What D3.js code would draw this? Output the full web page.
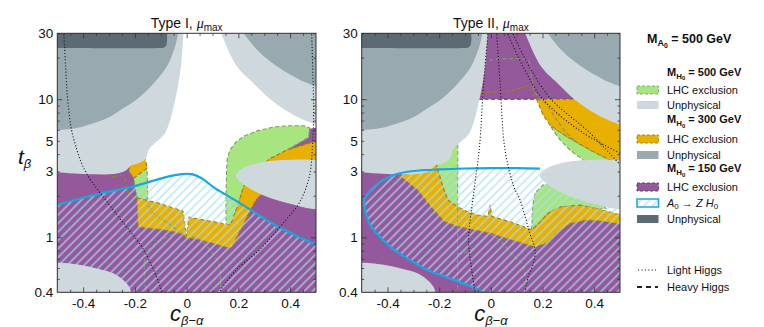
<!DOCTYPE html>
<html><head><meta charset="utf-8">
<script src="https://cdn.jsdelivr.net/npm/d3@7/dist/d3.min.js"></script>
<style>
body{margin:0;background:#fff;}
text{font-family:"Liberation Sans",Arial,sans-serif;fill:#111;}
</style></head>
<body><svg id="chart" width="764" height="327"></svg>
<script>
// ================= DATA (c_{beta-alpha}, t_beta) =================
const xTickValues=[-0.4,-0.2,0,0.2,0.4];
const xTickLabels=["-0.4","-0.2","0","0.2","0.4"];
const xMinorTicks=[-0.45,-0.35,-0.3,-0.25,-0.15,-0.1,-0.05,0.05,0.1,0.15,0.25,0.3,0.35,0.45];
const yTickValues=[0.4,1,3,5,10,30];
const yTickLabels=["0.4","1","3","5","10","30"];
const yMajorTicks=[1,10];
const yMinorTicks=[0.5,0.6,0.7,0.8,0.9,2,3,4,5,6,7,8,9,20,30];
const panelTitles=["Type I, ","Type II, "];

// Unphysical regions (shared by both panels)
const unphys150Edge=[[-0.076,31],[-0.076,26.2],[-0.08,24.4],[-0.09,23.6],[-0.1,23.5],[-0.52,23.5]];
const unphys150Corners=[[-0.52,31]];
const unphys300LeftEdge=[[-0.031,31],[-0.045,24],[-0.076,17.3],[-0.128,13.0],[-0.192,10],[-0.25,8.5],[-0.295,7.5],[-0.36,6.7],[-0.424,6.2],[-0.52,5.95]];
const unphys300LeftCorners=[[-0.52,31]];
const unphys300RightEdge=[[0.214,31],[0.272,22.8],[0.349,17.3],[0.439,13.8],[0.52,12.0]];
const unphys300RightCorners=[[0.52,31]];
const unphys500LeftEdge=[[-0.012,31],[-0.022,17.3],[-0.044,10],[-0.083,5.7],[-0.12,4.85],[-0.147,4.3],[-0.158,3.7],[-0.185,3.44],[-0.213,3.32],[-0.235,3.05],[-0.27,2.9],[-0.37,2.86],[-0.52,2.98]];
const unphys500LeftCorners=[[-0.52,31]];
const unphys500RightEdge=[[0.130,31],[0.194,17.3],[0.259,13.0],[0.323,10],[0.40,7.95],[0.465,6.92],[0.52,6.4]];
const unphys500RightCorners=[[0.52,31]];
const unphys500BlobEdge=[[-0.52,0.66],[-0.42,0.635],[-0.34,0.59],[-0.28,0.545],[-0.24,0.48],[-0.22,0.43],[-0.212,0.38]];
const unphys500BlobCorners=[[-0.52,0.38]];
const unphys500Ellipse=[[0.19,2.8],[0.21,3.1],[0.25,3.35],[0.31,3.55],[0.40,3.65],[0.5,3.62],[0.58,3.3],[0.6,2.4],[0.57,1.7],[0.5,1.6],[0.40,1.75],[0.31,1.97],[0.25,2.22],[0.21,2.5]];

// ---- Type I ----
const purpleI=[[-0.52,3.3],[-0.2,3.3],[-0.19,2.5],[-0.185,1.95],[-0.18,1.6],[-0.1,1.45],[-0.015,1.3],[-0.012,1.2],[0,1.0],[0.012,1.2],[0.1,1.1],[0.15,1.15],[0.165,1.4],[0.17,1.9],[0.18,2.6],[0.2,3.6],[0.25,4.8],[0.33,5.4],[0.42,5.9],[0.52,6.3],[0.52,0.38],[-0.52,0.38]];
const greenMainI=[[0.152,1.19],[0.152,2.20],[0.156,3.63],[0.167,4.29],[0.191,4.9],[0.222,5.4],[0.272,5.9],[0.338,6.3],[0.399,6.43],[0.455,6.42],[0.475,6.2],[0.472,5.3],[0.388,4.29],[0.322,3.70],[0.276,3.17],[0.221,2.35],[0.198,1.71],[0.171,1.25]];
const greenNotchI=[[-0.204,2.69],[-0.153,3.17],[-0.150,1.9],[-0.188,1.9],[-0.2,2.28]];
const orangeNotchI=[[-0.222,3.6],[-0.16,3.7],[-0.153,3.17],[-0.204,2.69],[-0.222,2.97]];
const orangeMainI=[[-0.192,1.93],[-0.103,1.76],[-0.014,1.55],[-0.001,1.02],[0.009,1.40],[0.051,1.35],[0.133,1.27],[0.152,1.23],[0.171,1.25],[0.198,1.71],[0.221,2.35],[0.276,3.17],[0.322,3.70],[0.388,4.29],[0.52,5.1],[0.52,2.83],[0.303,2.2],[0.268,1.86],[0.252,1.65],[0.214,1.19],[0.175,0.85],[0.160,0.84],[0.098,0.91],[0.020,0.99],[0.001,0.98],[-0.014,1.06],[-0.084,1.13],[-0.188,1.19]];
const orangeDashI=[[-0.285,2.74],[-0.246,2.78],[-0.223,2.09],[-0.192,1.86]];
const greenDashI1=[[-0.157,1.87],[-0.134,1.53],[-0.07,1.26],[-0.03,1.1]];
const greenDashI2=[[-0.155,0.38],[-0.155,0.77],[-0.058,1.04],[-0.014,1.075]];
const greenDashI3=[[0.02,1.0],[0.045,0.98],[0.122,0.65],[0.129,0.38]];
const cyanI=[[-0.52,1.68],[-0.342,2.06],[-0.2,2.35],[-0.084,2.72],[-0.02,2.87],[0.02,2.87],[0.058,2.68],[0.109,2.27],[0.187,1.86],[0.238,1.62],[0.341,1.23],[0.52,0.85]];
const hatchCornersI=[[0.52,0.38],[-0.52,0.38]];
const lightHiggsI1=[[-0.475,31],[-0.468,17.3],[-0.46,10],[-0.445,6],[-0.424,4.29],[-0.405,3.4],[-0.379,2.74],[-0.334,2.09],[-0.244,1.27],[-0.166,0.81],[-0.102,0.44],[-0.095,0.39]];
const lightHiggsI2=[[0.483,31],[0.488,15],[0.491,8.3],[0.487,4.8],[0.474,2.74],[0.435,1.77],[0.384,1.34],[0.281,0.81],[0.191,0.58],[0.133,0.418],[0.126,0.39]];

// ---- Type II ----
const purpleTopII=[[-0.2,31],[0.45,31],[0.45,10],[-0.2,10]];
const purpleDashII=[[-0.05,10],[0.33,10]];
const purpleII=[[-0.52,3.3],[-0.32,3.3],[-0.3,2.9],[-0.283,2.35],[-0.232,1.75],[-0.180,1.37],[-0.129,1.26],[-0.064,1.18],[0.0,1.12],[0.061,1.03],[0.125,0.95],[0.171,0.9],[0.216,0.95],[0.255,1.12],[0.306,1.32],[0.371,1.39],[0.435,1.36],[0.52,1.29],[0.52,0.38],[-0.52,0.38]];
const greenNotchII=[[-0.21,3.34],[-0.175,4.0],[-0.15,4.9],[-0.128,5.1],[-0.1285,1.66],[-0.166,1.86],[-0.186,2.31]];
const greenMidII=[[0.158,1.13],[0.162,1.7],[0.171,2.09],[0.203,2.4],[0.26,2.5],[0.35,2.2],[0.42,1.9],[0.445,1.62],[0.422,1.60],[0.345,1.71],[0.268,1.66],[0.221,1.49],[0.19,1.29]];
const greenBandII=[[0.229,6.5],[0.293,5.37],[0.384,4.29],[0.461,3.63],[0.52,3.4],[0.52,2.9],[0.461,2.97],[0.422,3.17],[0.357,3.63],[0.306,4.29],[0.268,5.07],[0.24,6.0]];
const orangeII=[[-0.36,2.72],[-0.275,3.12],[-0.21,3.34],[-0.186,2.31],[-0.166,1.86],[-0.1285,1.66],[-0.09,1.53],[-0.051,1.45],[-0.011,1.42],[-0.003,1.71],[0.004,1.42],[0.074,1.30],[0.139,1.17],[0.158,1.13],[0.19,1.29],[0.221,1.49],[0.268,1.66],[0.345,1.71],[0.422,1.60],[0.52,1.42],[0.52,1.23],[0.435,1.31],[0.371,1.335],[0.306,1.26],[0.255,1.07],[0.216,0.905],[0.171,0.85],[0.125,0.905],[0.061,0.98],[0.0,1.07],[-0.064,1.13],[-0.129,1.20],[-0.180,1.30],[-0.232,1.66],[-0.283,2.20],[-0.348,2.74]];
const orangeBandII=[[0.177,10],[0.6,10],[0.6,3.4],[0.504,3.45],[0.461,3.63],[0.384,4.29],[0.293,5.37],[0.229,6.5],[0.202,7.7]];
const greenDashII1=[[-0.03,18.9],[0.145,18.9],[0.158,14.0],[0.18,10.5],[0.216,9.1],[0.255,7.1],[0.293,5.69],[0.33,4.9]];
const orangeDashII1=[[-0.045,11.2],[0.074,11.5],[0.151,12.4],[0.165,11.0],[0.177,10]];
const greenDashII2=[[-0.129,1.66],[-0.129,0.38]];
const greenDashII3=[[-0.127,0.76],[-0.08,0.8],[-0.04,0.93],[-0.01,1.05]];
const greenDashII4=[[0.0,1.05],[0.035,0.95],[0.074,0.78],[0.125,0.62],[0.14,0.38]];
const cyanII=[[0.19,3.14],[0.1,3.17],[0.0,3.17],[-0.1,3.15],[-0.2,3.1],[-0.3,3.02],[-0.37,2.85],[-0.425,2.55],[-0.465,2.2],[-0.49,1.86],[-0.485,1.5],[-0.464,1.2],[-0.42,0.97],[-0.374,0.81],[-0.31,0.68],[-0.245,0.58],[-0.18,0.52],[-0.116,0.47],[-0.051,0.42],[-0.025,0.39]];
const hatchCornersII=[[0.52,0.38],[0.52,2.9],[0.25,2.9],[0.21,3.0]];
const lightHiggsII1=[[-0.01,31],[-0.027,13.8],[-0.045,4.3],[-0.065,2.2],[-0.086,0.95],[-0.075,0.6],[-0.06,0.39]];
const lightHiggsII2=[[0.022,31],[0.035,13.8],[0.055,4.29],[0.09,2.3],[0.113,1.86],[0.151,1.07],[0.171,0.81],[0.165,0.65],[0.145,0.52],[0.132,0.39]];
const lightHiggsII3=[[0.061,31],[0.124,17.3],[0.203,9.92],[0.358,5.69],[0.52,3.9]];
const lightHiggsII4=[[0.081,31],[0.148,17.3],[0.235,9.92],[0.384,5.69],[0.52,3.05]];

// ================= STYLE =================
const C={purple:"#93599b",purpleDash:"#5f3767",orange:"#e8b000",orangeDash:"#a47f16",
 green:"#a6e57f",greenDash:"#7f9d6b",light:"#cfd8dc",mid:"#99a9b0",dark:"#5c6b73",
 cyan:"#18a7e0",hatch:"#a9ddf3"};

const svg=d3.select("#chart");
const y=d3.scaleLog().domain([0.4,30]).range([292.3,33.3]);
const xs=[d3.scaleLinear().domain([-0.5,0.5]).range([57.3,316]),
          d3.scaleLinear().domain([-0.5,0.5]).range([361.7,620])];

const defs=svg.append("defs");
const pat=defs.append("pattern").attr("id","hatch").attr("patternUnits","userSpaceOnUse")
 .attr("width",6).attr("height",6).attr("patternTransform","rotate(45)");
pat.append("line").attr("x1",1).attr("y1",0).attr("x2",1).attr("y2",6).attr("stroke",C.hatch).attr("stroke-width",1.2);
xs.forEach((x,i)=>{
  defs.append("clipPath").attr("id","clip"+i).append("rect")
   .attr("x",x(-0.5)).attr("y",y(30)).attr("width",x(0.5)-x(-0.5)).attr("height",y(0.4)-y(30));
});

function ln(x,curve){const l=d3.line().x(d=>x(d[0])).y(d=>y(d[1]));return curve?l.curve(curve):l;}
function poly(g,x,pts,fill,dash){
  const p=g.append("path").attr("d",ln(x)(pts)+"Z").attr("fill",fill);
  if(dash) p.attr("stroke",dash).attr("stroke-width",1.1).attr("stroke-dasharray","4,2.5");
}
function smooth(g,x,edge,corners,fill){
  const d=ln(x,d3.curveCatmullRom.alpha(0.5))(edge)+corners.map(c=>`L${x(c[0])},${y(c[1])}`).join("")+"Z";
  g.append("path").attr("d",d).attr("fill",fill);
}
function dashLine(g,x,pts,col){
  g.append("path").attr("d",ln(x,d3.curveCatmullRom.alpha(0.5))(pts)).attr("fill","none")
   .attr("stroke",col).attr("stroke-width",1.1).attr("stroke-dasharray","4,2.5");
}
function dotted(g,x,pts){
  g.append("path").attr("d",ln(x,d3.curveCatmullRom.alpha(0.5))(pts)).attr("fill","none")
   .attr("stroke","#1a1a1a").attr("stroke-width",1.1).attr("stroke-dasharray","1.1,2");
}
function grays(g,x){
  smooth(g,x,unphys500LeftEdge,unphys500LeftCorners,C.light);
  smooth(g,x,unphys500RightEdge,unphys500RightCorners,C.light);
  smooth(g,x,unphys300LeftEdge,unphys300LeftCorners,C.mid);
  smooth(g,x,unphys300RightEdge,unphys300RightCorners,C.mid);
  smooth(g,x,unphys150Edge,unphys150Corners,C.dark);
}
function grayTop(g,x){
  smooth(g,x,unphys500BlobEdge,unphys500BlobCorners,C.light);
  g.append("path").attr("d",ln(x,d3.curveCatmullRomClosed.alpha(0.5))(unphys500Ellipse)).attr("fill",C.light);
}
function hatchArea(g,x,cy,corners){
  g.append("path").attr("d",ln(x,d3.curveCatmullRom.alpha(0.5))(cy)+corners.map(c=>`L${x(c[0])},${y(c[1])}`).join("")+"Z")
   .attr("fill","url(#hatch)");
}
function cyanLine(g,x,cy){
  g.append("path").attr("d",ln(x,d3.curveCatmullRom.alpha(0.5))(cy)).attr("fill","none")
   .attr("stroke",C.cyan).attr("stroke-width",2.2);
}

// ---------- Panel I ----------
{
 const x=xs[0];
 const g=svg.append("g").attr("clip-path","url(#clip0)");
 g.append("rect").attr("x",x(-0.5)).attr("y",y(30)).attr("width",x(0.5)-x(-0.5)).attr("height",y(0.4)-y(30)).attr("fill","#fff");
 poly(g,x,purpleI,C.purple);
 poly(g,x,greenMainI,C.green,C.greenDash);
 poly(g,x,greenNotchI,C.green,C.greenDash);
 poly(g,x,orangeMainI,C.orange,C.orangeDash);
 poly(g,x,orangeNotchI,C.orange,C.orangeDash);
 dashLine(g,x,orangeDashI,C.orangeDash);
 dashLine(g,x,greenDashI1,C.greenDash);
 dashLine(g,x,greenDashI2,C.greenDash);
 dashLine(g,x,greenDashI3,C.greenDash);
 grays(g,x);
 hatchArea(g,x,cyanI,hatchCornersI);
 grayTop(g,x);
 cyanLine(g,x,cyanI);
 dotted(g,x,lightHiggsI1);
 dotted(g,x,lightHiggsI2);
}
// ---------- Panel II ----------
{
 const x=xs[1];
 const g=svg.append("g").attr("clip-path","url(#clip1)");
 g.append("rect").attr("x",x(-0.5)).attr("y",y(30)).attr("width",x(0.5)-x(-0.5)).attr("height",y(0.4)-y(30)).attr("fill","#fff");
 poly(g,x,purpleTopII,C.purple);
 poly(g,x,purpleII,C.purple);
 dashLine(g,x,purpleDashII,C.purpleDash);
 poly(g,x,greenNotchII,C.green,C.greenDash);
 poly(g,x,greenMidII,C.green,C.greenDash);
 poly(g,x,greenBandII,C.green,C.greenDash);
 poly(g,x,orangeII,C.orange,C.orangeDash);
 poly(g,x,orangeBandII,C.orange,C.orangeDash);
 dashLine(g,x,greenDashII1,C.greenDash);
 dashLine(g,x,orangeDashII1,C.orangeDash);
 dashLine(g,x,greenDashII2,C.greenDash);
 dashLine(g,x,greenDashII3,C.greenDash);
 dashLine(g,x,greenDashII4,C.greenDash);
 grays(g,x);
 hatchArea(g,x,cyanII,hatchCornersII);
 grayTop(g,x);
 cyanLine(g,x,cyanII);
 dotted(g,x,lightHiggsII1);
 dotted(g,x,lightHiggsII2);
 dotted(g,x,lightHiggsII3);
 dotted(g,x,lightHiggsII4);
}

// ---------- Axes & frames ----------
xs.forEach((x,i)=>{
  const a=svg.append("g");
  const b=a.append("g").attr("transform",`translate(0,${y(0.4)})`)
   .call(d3.axisBottom(x).tickValues(xTickValues).tickSizeInner(-5).tickSizeOuter(0).tickPadding(6).tickFormat((d,k)=>xTickLabels[k]));
  a.append("g").attr("transform",`translate(0,${y(0.4)})`).call(d3.axisBottom(x).tickValues(xMinorTicks).tickSizeInner(-2.5).tickSizeOuter(0).tickFormat(""));
  a.append("g").attr("transform",`translate(0,${y(30)})`).call(d3.axisTop(x).tickValues(xTickValues).tickSizeInner(-5).tickSizeOuter(0).tickFormat(""));
  a.append("g").attr("transform",`translate(0,${y(30)})`).call(d3.axisTop(x).tickValues(xMinorTicks).tickSizeInner(-2.5).tickSizeOuter(0).tickFormat(""));
  const L=a.append("g").attr("transform",`translate(${x(-0.5)},0)`)
   .call(d3.axisLeft(y).tickValues(yTickValues).tickSize(0).tickPadding(4).tickFormat((d,k)=>yTickLabels[k]));
  a.append("g").attr("transform",`translate(${x(-0.5)},0)`).call(d3.axisLeft(y).tickValues(yMajorTicks).tickSizeInner(-5).tickSizeOuter(0).tickFormat(""));
  a.append("g").attr("transform",`translate(${x(-0.5)},0)`).call(d3.axisLeft(y).tickValues(yMinorTicks).tickSizeInner(-2.5).tickSizeOuter(0).tickFormat(""));
  a.append("g").attr("transform",`translate(${x(0.5)},0)`).call(d3.axisRight(y).tickValues(yMajorTicks).tickSizeInner(-5).tickSizeOuter(0).tickFormat(""));
  a.append("g").attr("transform",`translate(${x(0.5)},0)`).call(d3.axisRight(y).tickValues(yMinorTicks).tickSizeInner(-2.5).tickSizeOuter(0).tickFormat(""));
  a.selectAll(".domain").remove();
  a.selectAll(".tick line").attr("stroke","#333").attr("stroke-width",0.8);
  a.selectAll("text").attr("font-size",13.5).attr("font-family","Liberation Sans, Arial, sans-serif").attr("fill","#111");
  svg.append("rect").attr("x",x(-0.5)).attr("y",y(30)).attr("width",x(0.5)-x(-0.5)).attr("height",y(0.4)-y(30))
   .attr("fill","none").attr("stroke","#333").attr("stroke-width",1);
  // title
  const cx=(x(-0.5)+x(0.5))/2;
  const t=svg.append("text").attr("x",cx).attr("y",28).attr("text-anchor","middle").attr("font-size",14);
  t.append("tspan").text(panelTitles[i]);
  t.append("tspan").attr("font-family","Liberation Serif, serif").attr("font-style","italic").text("μ");
  t.append("tspan").attr("font-size",10).attr("dy",3).text("max");
  // x label
  const xl=svg.append("text").attr("x",cx).attr("y",321).attr("text-anchor","middle");
  xl.append("tspan").attr("font-size",22).attr("font-style","italic").text("c");
  xl.append("tspan").attr("font-size",13).attr("font-style","italic").attr("dy",4).text("β−α");
});
// y label
{
 const yl=svg.append("text").attr("x",18).attr("y",164);
 yl.append("tspan").attr("font-size",21).attr("font-style","italic").text("t");
 yl.append("tspan").attr("font-size",13).attr("font-style","italic").attr("dy",4).text("β");
}

// ---------- Legend ----------
const lg=svg.append("g");
function massHeader(yb,letter,val,fs){
  const t=lg.append("text").attr("x",letter==="A"?647:667).attr("y",yb).attr("font-weight","bold").attr("font-size",fs);
  t.append("tspan").text("M");
  t.append("tspan").attr("font-size",fs*0.72).attr("dy",3).text(letter);
  t.append("tspan").attr("font-size",fs*0.55).attr("dy",1.5).text("0");
  t.append("tspan").attr("dy",-4.5).text(" = "+val+" GeV");
}
massHeader(43,"A","500",12.5);
const legendRows=[
 {type:"head",yb:75.5,val:"500"},
 {type:"sw",y0:86,fill:C.green,stroke:C.greenDash,label:"LHC exclusion"},
 {type:"sw",y0:101,fill:C.light,label:"Unphysical"},
 {type:"head",yb:123,val:"300"},
 {type:"sw",y0:135,fill:C.orange,stroke:C.orangeDash,label:"LHC exclusion"},
 {type:"sw",y0:151,fill:C.mid,label:"Unphysical"},
 {type:"head",yb:172,val:"150"},
 {type:"sw",y0:183,fill:C.purple,stroke:C.purpleDash,label:"LHC exclusion"},
 {type:"hatch",y0:199},
 {type:"sw",y0:215,fill:C.dark,label:"Unphysical"}
];
legendRows.forEach(r=>{
  if(r.type==="head"){massHeader(r.yb,"H",r.val,11);return;}
  if(r.type==="sw"){
    const rc=lg.append("rect").attr("x",637).attr("y",r.y0).attr("width",21.5).attr("height",8).attr("fill",r.fill);
    if(r.stroke) rc.attr("stroke",r.stroke).attr("stroke-width",0.9).attr("stroke-dasharray","3,2");
    lg.append("text").attr("x",667).attr("y",r.y0+8).attr("font-size",11).text(r.label);
  } else {
    lg.append("rect").attr("x",637).attr("y",r.y0).attr("width",21.5).attr("height",8).attr("fill","#fff");
    lg.append("rect").attr("x",637).attr("y",r.y0).attr("width",21.5).attr("height",8).attr("fill","url(#hatch)")
      .attr("stroke",C.cyan).attr("stroke-width",1.5);
    const t=lg.append("text").attr("x",667).attr("y",r.y0+8).attr("font-size",11);
    t.append("tspan").attr("font-style","italic").text("A");
    t.append("tspan").attr("font-size",8).attr("dy",2).text("0");
    t.append("tspan").attr("dy",-2).text(" → ");
    t.append("tspan").attr("font-style","italic").text("Z H");
    t.append("tspan").attr("font-size",8).attr("dy",2).text("0");
  }
});
lg.append("line").attr("x1",638).attr("x2",656).attr("y1",270).attr("y2",270).attr("stroke","#222").attr("stroke-width",1.2).attr("stroke-dasharray","1.2,2.2");
lg.append("text").attr("x",667).attr("y",274).attr("font-size",11).text("Light Higgs");
lg.append("line").attr("x1",637).attr("x2",658).attr("y1",287).attr("y2",287).attr("stroke","#222").attr("stroke-width",2).attr("stroke-dasharray","5,4");
lg.append("text").attr("x",667).attr("y",291).attr("font-size",11).text("Heavy Higgs");
</script>
</body></html>
